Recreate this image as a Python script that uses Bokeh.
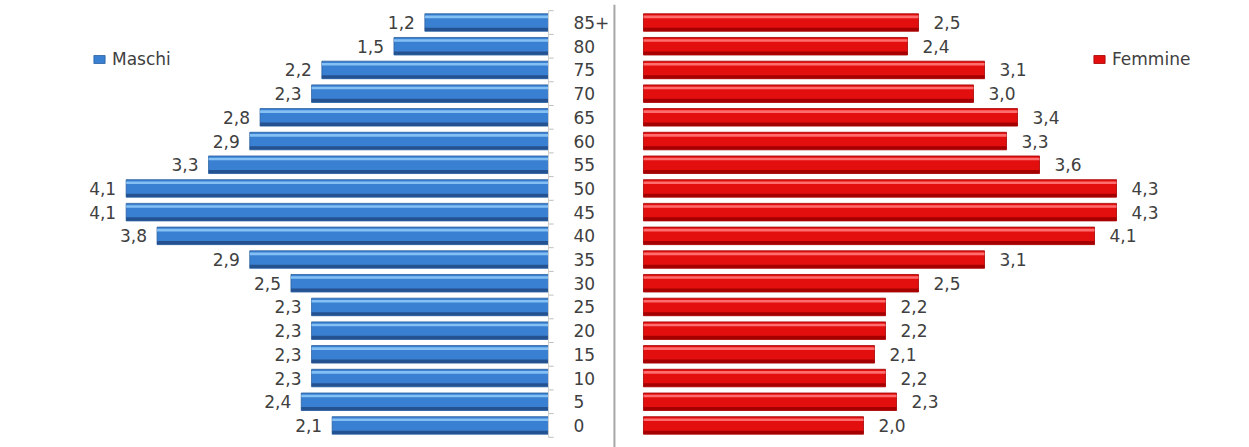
from bokeh.plotting import figure
from bokeh.models import Range1d, ColumnDataSource, Legend, LegendItem
from bokeh.embed import file_html
from bokeh.resources import INLINE
from bokeh.core.properties import value

# ---- data ----
ages = ["0", "5", "10", "15", "20", "25", "30", "35", "40", "45",
        "50", "55", "60", "65", "70", "75", "80", "85+"]
maschi = [2.1, 2.4, 2.3, 2.3, 2.3, 2.3, 2.5, 2.9, 3.8, 4.1,
          4.1, 3.3, 2.9, 2.8, 2.3, 2.2, 1.5, 1.2]
femmine = [2.0, 2.3, 2.2, 2.1, 2.2, 2.2, 2.5, 3.1, 4.1, 4.3,
           4.3, 3.6, 3.3, 3.4, 3.0, 3.1, 2.4, 2.5]

W, H = 1249, 447
rows = list(range(len(ages)))
fmt = lambda v: f"{v:.1f}".replace(".", ",")

src = ColumnDataSource(dict(
    y=rows, age=ages, m=maschi, f=femmine,
    zero=[0] * len(rows),
    ml=[fmt(v) for v in maschi], fl=[fmt(v) for v in femmine],
    ytop=[r + 0.24 for r in rows], ybot=[r - 0.29 for r in rows],
))

p = figure(width=W, height=H, output_backend="svg", toolbar_location=None,
           x_axis_type=None, y_axis_type=None, min_border=0,
           x_range=Range1d(-5.845, 5.509), y_range=Range1d(-0.93, 17.93))
p.outline_line_color = None
p.grid.visible = False
p.background_fill_color = "white"
# male scale: reversed, zero at the centre axis
p.extra_x_ranges = {"male": Range1d(5.32, -6.806)}

BH = 0.74
# male bars (3D-ish layering)
mb = p.hbar(y="y", left="zero", right="m", height=BH, source=src, x_range_name="male",
            fill_color="#3a80d2", line_color="#2a5f9e", line_width=0.8)
p.hbar(y="ytop", left="zero", right="m", height=0.11, source=src, x_range_name="male",
       fill_color="#84c0f3", line_color=None)
p.hbar(y="ybot", left="zero", right="m", height=0.14, source=src, x_range_name="male",
       fill_color="#24518f", line_color=None)
# female bars
fb = p.hbar(y="y", left="zero", right="f", height=BH, source=src,
            fill_color="#e30f0f", line_color="#a30000", line_width=0.8)
p.hbar(y="ytop", left="zero", right="f", height=0.11, source=src,
       fill_color="#ff6e6e", line_color=None)
p.hbar(y="ybot", left="zero", right="f", height=0.14, source=src,
       fill_color="#a50000", line_color=None)

FONT = value("DejaVu Sans")
TC = "#404040"
FS = "17px"
# value labels
p.text(x="m", y="y", text="ml", source=src, x_range_name="male", x_offset=-10,
       text_align="right", text_baseline="middle", text_font=FONT,
       text_font_size=FS, text_color=TC)
p.text(x="f", y="y", text="fl", source=src, x_offset=15,
       text_align="left", text_baseline="middle", text_font=FONT,
       text_font_size=FS, text_color=TC)
# age labels
p.text(x="zero", y="y", text="age", source=src, x_range_name="male", x_offset=25,
       text_align="left", text_baseline="middle", text_font=FONT,
       text_font_size=FS, text_color=TC)

# category axis line and tick marks between categories
halves = [r - 0.5 for r in rows] + [rows[-1] + 0.5]
p.segment(x0=[0] * len(halves), x1=[-0.05] * len(halves), y0=halves, y1=halves,
          x_range_name="male", line_color="#bfbfbf", line_width=1)
p.segment(x0=[0], x1=[0], y0=[halves[0]], y1=[halves[-1]],
          x_range_name="male", line_color="#d0d0d0", line_width=1)
# separator line
p.segment(x0=[-0.264], x1=[-0.264], y0=[-0.93], y1=[17.75],
          line_color="#a6a6a6", line_width=2)

# legends
for rend, label, loc in [(mb, "Maschi", (92, 378)), (fb, "Femmine", (1092, 378))]:
    lg = Legend(items=[LegendItem(label=label, renderers=[rend])], location=loc,
                border_line_color=None, background_fill_alpha=0,
                padding=0, margin=0, glyph_width=14, glyph_height=10,
                label_standoff=6, label_text_font="DejaVu Sans",
                label_text_font_size=FS, label_text_color=TC)
    p.add_layout(lg)

open("out.html", "w").write(file_html(p, INLINE))
